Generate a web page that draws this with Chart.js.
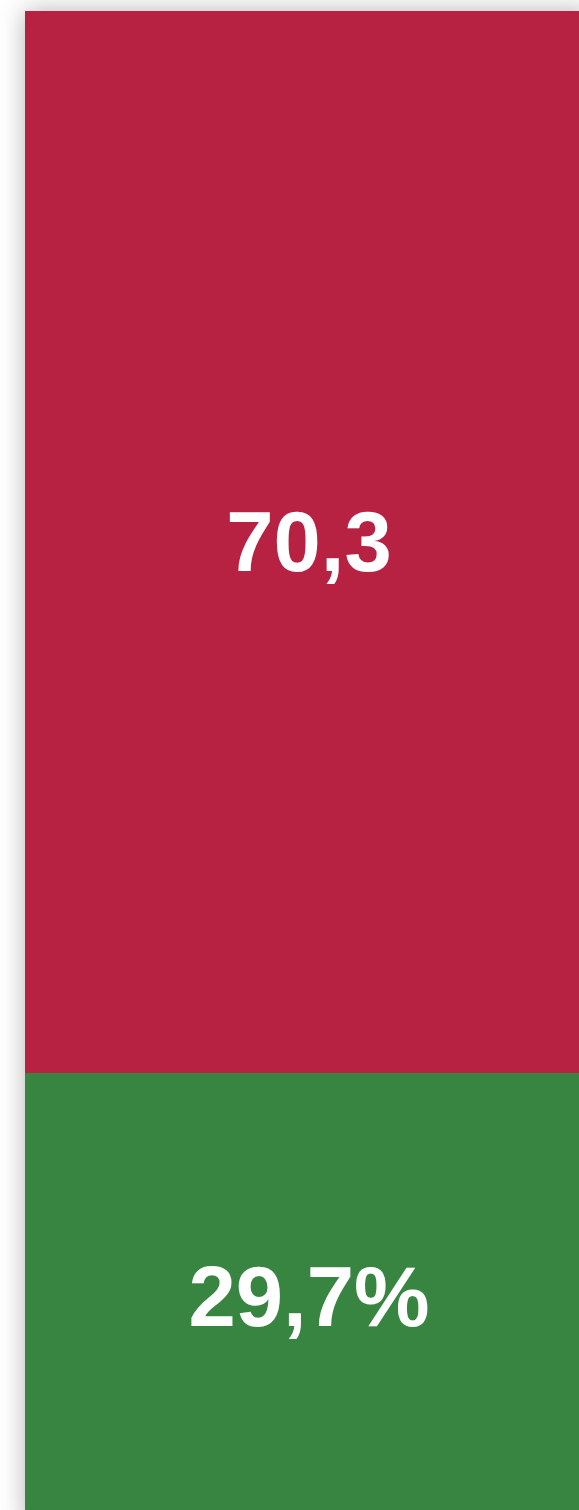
<!DOCTYPE html>
<html>
<head>
<meta charset="utf-8">
<script src="https://cdn.jsdelivr.net/npm/chart.js@4/dist/chart.umd.min.js"></script>
<style>
  html, body { margin: 0; padding: 0; background: #ffffff; overflow: hidden; width: 579px; height: 1510px; }
  #wrap { position: absolute; left: 25px; top: 11px; width: 566px; height: 1511px; box-shadow: 0 0 24px rgba(0,0,0,0.3); }
  canvas { display: block; }
</style>
</head>
<body>
<div id="wrap"><canvas id="c" width="566" height="1511"></canvas></div>
<script>
const categories = [''];
const seriesNames = ['Verde', 'Rojo'];
const greenValues = [29.7];
const redValues = [70.3];
const labelSuffixes = ['%', ''];
const seriesColors = ['#388541', '#B72142'];

const labelPlugin = {
  id: 'barLabels',
  afterDatasetsDraw(chart) {
    const ctx = chart.ctx;
    ctx.save();
    ctx.fillStyle = '#ffffff';
    ctx.font = 'bold 85px "Liberation Sans", Arial, sans-serif';
    ctx.textAlign = 'center';
    ctx.textBaseline = 'middle';
    chart.data.datasets.forEach((ds, i) => {
      const meta = chart.getDatasetMeta(i);
      meta.data.forEach((bar, j) => {
        const v = ds.data[j];
        const txt = String(v).replace('.', ',') + labelSuffixes[i];
        const cy = (bar.y + bar.base) / 2;
        ctx.fillText(txt, bar.x + 1, cy + 5);
      });
    });
    ctx.restore();
  }
};

new Chart(document.getElementById('c'), {
  type: 'bar',
  data: {
    labels: categories,
    datasets: [
      { label: seriesNames[0], data: greenValues, backgroundColor: seriesColors[0], borderWidth: 0, barPercentage: 1, categoryPercentage: 1 },
      { label: seriesNames[1], data: redValues, backgroundColor: seriesColors[1], borderWidth: 0, barPercentage: 1, categoryPercentage: 1 }
    ]
  },
  options: {
    responsive: false,
    maintainAspectRatio: false,
    animation: false,
    devicePixelRatio: 1,
    layout: { padding: 0 },
    plugins: { legend: { display: false }, tooltip: { enabled: false } },
    scales: {
      x: { stacked: true, display: false },
      y: { stacked: true, display: false, min: 0, max: 100 }
    }
  },
  plugins: [labelPlugin]
});
</script>
</body>
</html>
